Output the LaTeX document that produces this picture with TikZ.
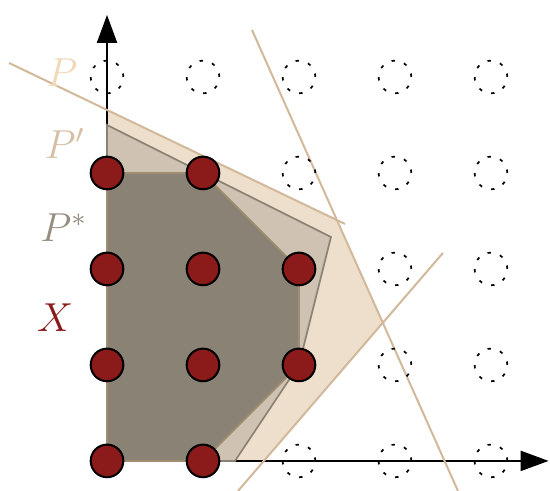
\documentclass[tikz,border=0pt]{standalone}
\usepackage{amsmath,amssymb}
\usepackage{tikz}
\usetikzlibrary{arrows.meta}
\definecolor{polyP}{RGB}{237,223,204}
\definecolor{polyPp}{RGB}{207,194,178}
\definecolor{polyPs}{RGB}{138,130,117}
\definecolor{hullrim}{RGB}{160,140,110}
\definecolor{cutline}{RGB}{210,185,156}
\definecolor{labP}{RGB}{240,216,184}
\definecolor{labPp}{RGB}{214,191,165}
\definecolor{labPs}{RGB}{150,141,126}
\definecolor{intpt}{RGB}{139,26,26}

\begin{document}
\begin{tikzpicture}[x=1cm,y=1cm,>={Triangle[length=2.9mm,width=2.1mm]},
  lattice/.style={draw,line width=0.5pt,dash pattern=on 1pt off 2.8pt,circle,minimum size=3.4mm,inner sep=0pt},
  feasible/.style={draw,line width=0.6pt,fill=intpt,circle,minimum size=3.4mm,inner sep=0pt}]
\useasboundingbox (-1.115,-0.3125) rectangle (4.615,4.802);
\fill[polyP] (0,0)--(1.634,0)--(2.873,1.439)--(2.394,2.510)--(0,3.657)--cycle;
\coordinate (o) at (0,0);
\coordinate (xend) at (4.6,0);
\coordinate (yend) at (0,4.646);
\draw[->] (o)--(xend);
\draw[->] (o)--(yend);
\draw[cutline,line width=0.6pt] (-1.021,4.146)--(2.479,2.469);
\draw[cutline,line width=0.6pt] (1.51,4.49)--(3.656,-0.3125);
\draw[cutline,line width=0.6pt] (1.365,-0.3125)--(3.5,2.167);
\filldraw[fill=polyPp,draw=polyPs,line width=0.5pt] (0,0)--(4/3,0)--(2,1)--(7/3,7/3)--(0,3.5)--cycle;
\filldraw[fill=polyPs,draw=hullrim,line width=0.5pt] (0,0)--(1,0)--(2,1)--(2,2)--(1,3)--(0,3)--cycle;
% lattice points outside X
\foreach \x/\y in {2/0,3/0,4/0,3/1,4/1,3/2,4/2,2/3,3/3,4/3,0/4,1/4,2/4,3/4,4/4}
  \node[lattice] (z\x\y) at (\x,\y) {};
% integer points of P
\foreach \x/\y in {0/0,1/0,0/1,1/1,2/1,0/2,1/2,2/2,0/3,1/3}
  \node[feasible] (x\x\y) at (\x,\y) {};
\node[labP] (labelP) at (-0.47,4.05) {\large $P$};
\node[labPp] (labelPp) at (-0.44,3.31) {\large $P'$};
\node[labPs] (labelPs) at (-0.45,2.43) {\large $P^*$};
\node[intpt] (labelX) at (-0.54,1.49) {\large $X$};
\end{tikzpicture}
\end{document}
